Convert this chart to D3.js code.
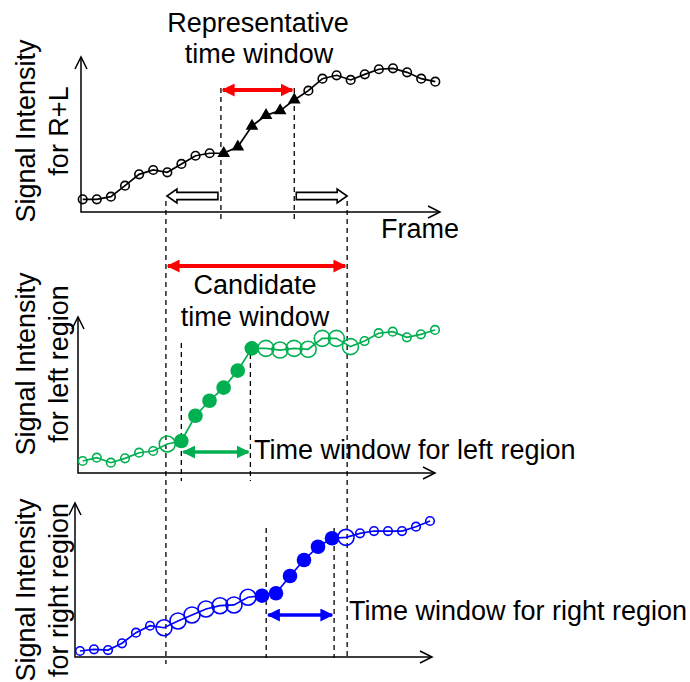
<!DOCTYPE html>
<html>
<head>
<meta charset="utf-8">
<script src="https://cdn.jsdelivr.net/npm/d3@7"></script>
<style>
  body { margin: 0; background: #fff; }
  text { font-family: "Liberation Sans", Arial, sans-serif; font-size: 27px; fill: #000; }
</style>
</head>
<body>
<div id="chart"></div>
<script>
// frames 0..25, signal values (0..100 = axis height)
let frames = d3.range(26);

let sumValues = [8.2, 8.2, 9.9, 17.0, 24.3, 27.1, 25.6, 31.0, 36.3, 37.9, 37.9, 42.1, 55.5,
                 62.4, 65.4, 72.3, 78.3, 86.0, 88.2, 85.2, 88.8, 92.1, 92.7, 90.1, 86.0, 84.1];
let leftValues = [7.7, 9.8, 6.6, 9.4, 13.0, 14.1, 18.6, 20.5, 36.7, 46.3, 54.7, 65.6, 79.9,
                  79.9, 78.8, 79.9, 79.3, 86.3, 86.3, 81.0, 84.6, 89.6, 90.6, 87.0, 88.9, 91.7];
let rightValues = [3.9, 5.0, 4.5, 8.9, 15.8, 20.3, 19.0, 23.4, 27.3, 31.2, 33.3, 33.8, 38.8,
                   39.8, 41.4, 52.6, 63.0, 71.6, 77.1, 77.7, 80.3, 81.8, 81.8, 81.8, 84.6, 88.3];

// marker kind per frame: o = small open, O = large open, f = filled, t = triangle
let sumMarks   = "oooooooooottttttoooooooooo".split("");
let leftMarks  = "ooooooOffffffOOOOOOOoooooo".split("");
let rightMarks = "ooooooOOOOOOOffffffOoooooo".split("");

// windows in frame units
let candidateWindow = [5.9, 18.75];
let repWindow = [9.8, 15.0];
let leftWindow = [7.0, 11.9];
let rightWindow = [13.3, 18.15];

let width = 690, height = 682;

let svg = d3.select("#chart").append("svg")
    .attr("width", width)
    .attr("height", height);

let panels = [
  {values: sumValues, marks: sumMarks, color: "#000000", left: 81, bottom: 212, top: 57, right: 440, x0: 82.7, x1: 435.3,
   label: ["Signal Intensity", "for R+L"], labelY: 131},
  {values: leftValues, marks: leftMarks, color: "#00b050", left: 78, bottom: 473, top: 317, right: 435, x0: 82.7, x1: 435,
   label: ["Signal Intensity", "for left region"], labelY: 364},
  {values: rightValues, marks: rightMarks, color: "#0000ff", left: 75, bottom: 657, top: 503, right: 432, x0: 80, x1: 430,
   label: ["Signal Intensity", "for right region"], labelY: 590}
];

panels.forEach(function(p) {
  p.x = d3.scaleLinear().domain([0, 25]).range([p.x0, p.x1]);
  p.y = d3.scaleLinear().domain([0, 100]).range([p.bottom, p.top]);
});

// filled arrow head markers for the double arrows
function headMarker(id, color) {
  let m = svg.append("defs").append("marker")
      .attr("id", id)
      .attr("viewBox", "0 0 10 10")
      .attr("refX", 9)
      .attr("refY", 5)
      .attr("markerUnits", "userSpaceOnUse")
      .attr("markerWidth", 13)
      .attr("markerHeight", 13)
      .attr("orient", "auto-start-reverse");
  m.append("path").attr("d", "M0,0 L10,5 L0,10 z").attr("fill", color);
}
headMarker("headRed", "#ff0000");
headMarker("headGreen", "#00b050");
headMarker("headBlue", "#0000ff");

function dashed(x, y1, y2) {
  svg.append("line")
    .attr("x1", x).attr("x2", x)
    .attr("y1", y1).attr("y2", y2)
    .attr("stroke", "#000")
    .attr("stroke-width", 1.3)
    .attr("stroke-dasharray", "5,4");
}

function doubleArrow(xa, xb, y, color, id, w) {
  svg.append("line")
    .attr("x1", xa + 2).attr("x2", xb - 2)
    .attr("y1", y).attr("y2", y)
    .attr("stroke", color)
    .attr("stroke-width", w)
    .attr("marker-start", "url(#" + id + ")")
    .attr("marker-end", "url(#" + id + ")");
}

// block (hollow) arrow, dir = -1 left, +1 right
function blockArrow(xTail, xTip, y, dir) {
  let hl = 10, bh = 3.6, hh = 7;
  let xh = xTip - dir * hl;
  let pts = [[xTail, y - bh], [xh, y - bh], [xh, y - hh], [xTip, y], [xh, y + hh], [xh, y + bh], [xTail, y + bh]];
  svg.append("path")
    .attr("d", d3.line()(pts) + "Z")
    .attr("fill", "#fff")
    .attr("stroke", "#000")
    .attr("stroke-width", 1.6);
}

// dashed window guides
let pTop = panels[0], pMid = panels[1], pBot = panels[2];
dashed(pTop.x(candidateWindow[0]), 201, 664);
dashed(pTop.x(candidateWindow[1]), 201, 660);
dashed(pTop.x(repWindow[0]), 88, 221);
dashed(pTop.x(repWindow[1]), 88, 221);
dashed(pMid.x(leftWindow[0]), 343, 481);
dashed(pMid.x(leftWindow[1]), 345, 481);
dashed(pBot.x(rightWindow[0]), 528, 658);
dashed(pBot.x(rightWindow[1]), 528, 658);

panels.forEach(function(p) {
  let g = svg.append("g");

  // axes with open arrow heads
  let axisPath = "M" + p.left + "," + p.top + " L" + p.left + "," + p.bottom + " L" + p.right + "," + p.bottom;
  g.append("path").attr("d", axisPath).attr("fill", "none").attr("stroke", "#000").attr("stroke-width", 1.5);
  g.append("path")
    .attr("d", "M" + (p.left - 6) + "," + (p.top + 12) + " L" + p.left + "," + p.top + " L" + (p.left + 6) + "," + (p.top + 12))
    .attr("fill", "none").attr("stroke", "#000").attr("stroke-width", 1.5);
  g.append("path")
    .attr("d", "M" + (p.right - 12) + "," + (p.bottom - 6) + " L" + p.right + "," + p.bottom + " L" + (p.right - 12) + "," + (p.bottom + 6))
    .attr("fill", "none").attr("stroke", "#000").attr("stroke-width", 1.5);

  // y label
  let lab = g.append("text")
    .attr("text-anchor", "middle")
    .attr("transform", "translate(0," + p.labelY + ") rotate(-90)");
  lab.append("tspan").attr("x", 0).attr("y", 35).text(p.label[0]);
  lab.append("tspan").attr("x", 0).attr("y", 68).text(p.label[1]);

  // line
  let line = d3.line()
    .x(function(d, i) { return p.x(frames[i]); })
    .y(function(d) { return p.y(d); });
  g.append("path")
    .datum(p.values)
    .attr("d", line)
    .attr("fill", "none")
    .attr("stroke", p.color)
    .attr("stroke-width", 1.7);

  // markers
  p.values.forEach(function(v, i) {
    let cx = p.x(frames[i]), cy = p.y(v), k = p.marks[i];
    if (k === "t") {
      g.append("path")
        .attr("d", d3.symbol().type(d3.symbolTriangle).size(70)())
        .attr("transform", "translate(" + cx + "," + cy + ")")
        .attr("fill", "#000");
    } else if (k === "f") {
      g.append("circle").attr("cx", cx).attr("cy", cy).attr("r", 7.3).attr("fill", p.color);
    } else {
      g.append("circle").attr("cx", cx).attr("cy", cy)
        .attr("r", k === "O" ? 8 : 4.3)
        .attr("fill", "none")
        .attr("stroke", p.color)
        .attr("stroke-width", 1.6);
    }
  });
});

// window arrows
doubleArrow(pTop.x(repWindow[0]), pTop.x(repWindow[1]), 90, "#ff0000", "headRed", 4);
doubleArrow(pTop.x(candidateWindow[0]), pTop.x(candidateWindow[1]), 266, "#ff0000", "headRed", 4);
doubleArrow(pMid.x(leftWindow[0]), pMid.x(leftWindow[1]), 452, "#00b050", "headGreen", 3.5);
doubleArrow(pBot.x(rightWindow[0]), pBot.x(rightWindow[1]), 615, "#0000ff", "headBlue", 3.5);

blockArrow(pTop.x(repWindow[0]) - 3, pTop.x(candidateWindow[0]) + 1, 196, -1);
blockArrow(pTop.x(repWindow[1]) + 2, pTop.x(candidateWindow[1]), 196, 1);

// texts
svg.append("text").attr("x", 258).attr("y", 32).attr("text-anchor", "middle").text("Representative");
svg.append("text").attr("x", 259).attr("y", 63).attr("text-anchor", "middle").text("time window");
svg.append("text").attr("x", 381).attr("y", 238).text("Frame");
svg.append("text").attr("x", 255).attr("y", 294).attr("text-anchor", "middle").text("Candidate");
svg.append("text").attr("x", 255).attr("y", 326).attr("text-anchor", "middle").text("time window");
svg.append("text").attr("x", 254).attr("y", 459).text("Time window for left region");
svg.append("text").attr("x", 349).attr("y", 620).text("Time window for right region");
</script>
</body>
</html>
